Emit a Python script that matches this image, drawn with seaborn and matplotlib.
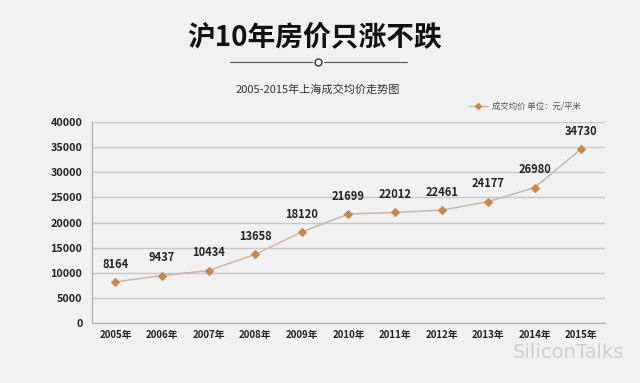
import matplotlib
matplotlib.use("Agg")
import matplotlib.pyplot as plt
import seaborn as sns
import pandas as pd
import numpy as np
from matplotlib.lines import Line2D

years = ["2005年", "2006年", "2007年", "2008年", "2009年", "2010年",
         "2011年", "2012年", "2013年", "2014年", "2015年"]
prices = [8164, 9437, 10434, 13658, 18120, 21699, 22012, 22461, 24177, 26980, 34730]
yticks = [0, 5000, 10000, 15000, 20000, 25000, 30000, 35000, 40000]

sns.set_style("white")
plt.rcParams['font.family'] = ['Noto Sans CJK SC', 'DejaVu Sans']

df = pd.DataFrame({"x": np.arange(len(years)), "price": prices})

bg = "#f1f1f1"
fig = plt.figure(figsize=(6.4, 3.83), dpi=100, facecolor=bg)
ax = fig.add_axes([0.144, 0.157, 0.801, 0.524], facecolor=bg)

sns.lineplot(data=df, x="x", y="price", ax=ax, color="#c9b8a8", linewidth=1.1,
             marker="D", markersize=4.5, markerfacecolor="#c8874a",
             markeredgecolor="#c8874a", sort=False, zorder=3)

for i, v in enumerate(prices):
    ax.annotate(str(v), (i, v), xytext=(0, 8), textcoords="offset points",
                ha="center", va="bottom", fontsize=8, fontweight="bold",
                color="#222222")

ax.set_xlim(-0.5, len(years) - 0.5)
ax.set_ylim(0, 40000)
ax.set_yticks(yticks)
ax.set_yticklabels([str(t) for t in yticks], fontsize=7.8, fontweight="bold", color="#222222")
ax.set_xticks(np.arange(len(years)))
ax.set_xticklabels(years, fontsize=7, fontweight="bold", color="#222222")
ax.set_xticks(np.arange(-0.5, len(years)), minor=True)
ax.tick_params(axis="x", which="major", length=0, pad=5)
ax.tick_params(axis="x", which="minor", length=4, color="#999999", direction="out")
ax.tick_params(axis="y", length=4, color="#999999", direction="out", pad=3)
ax.grid(axis="y", color="#c8c8c8", linewidth=1.0)
ax.set_axisbelow(True)
for s in ["top", "right"]:
    ax.spines[s].set_visible(False)
ax.spines["left"].set_color("#aaaaaa")
ax.spines["bottom"].set_color("#aaaaaa")
ax.set_xlabel("")
ax.set_ylabel("")

# Titles
fig.text(0.492, 1-38/383, "沪10年房价只涨不跌", ha="center", va="center",
         fontsize=20, fontweight="bold", color="#111111")
fig.add_artist(Line2D([230/640, 312/640], [1-62/383]*2, color="#555555", linewidth=0.8))
fig.add_artist(Line2D([324/640, 407/640], [1-62/383]*2, color="#555555", linewidth=0.8))
fig.add_artist(Line2D([318/640], [1-62/383], marker="o", markersize=5,
                      markerfacecolor="none", markeredgecolor="#333333", markeredgewidth=1.0))
fig.text(0.497, 1-90/383, "2005-2015年上海成交均价走势图", ha="center", va="center",
         fontsize=8, color="#333333")

# legend
handle = Line2D([], [], color="#c9b8a8", marker="D", markersize=3,
                markerfacecolor="#c8874a", markeredgecolor="#c8874a", linewidth=1)
leg = fig.legend([handle], ["成交均价 单位：元/平米"], loc="center",
                 bbox_to_anchor=(525/640, 1-106/383), frameon=False, fontsize=6,
                 handlelength=2.2, handletextpad=0.5)
for t in leg.get_texts():
    t.set_color("#555555")

# watermark
fig.text(568/640, 1-352/383, "SiliconTalks", ha="center", va="center",
         fontsize=14, color="#cfcfcf", family=["DejaVu Sans"])

fig.savefig("out.png", dpi=100, facecolor=bg)
